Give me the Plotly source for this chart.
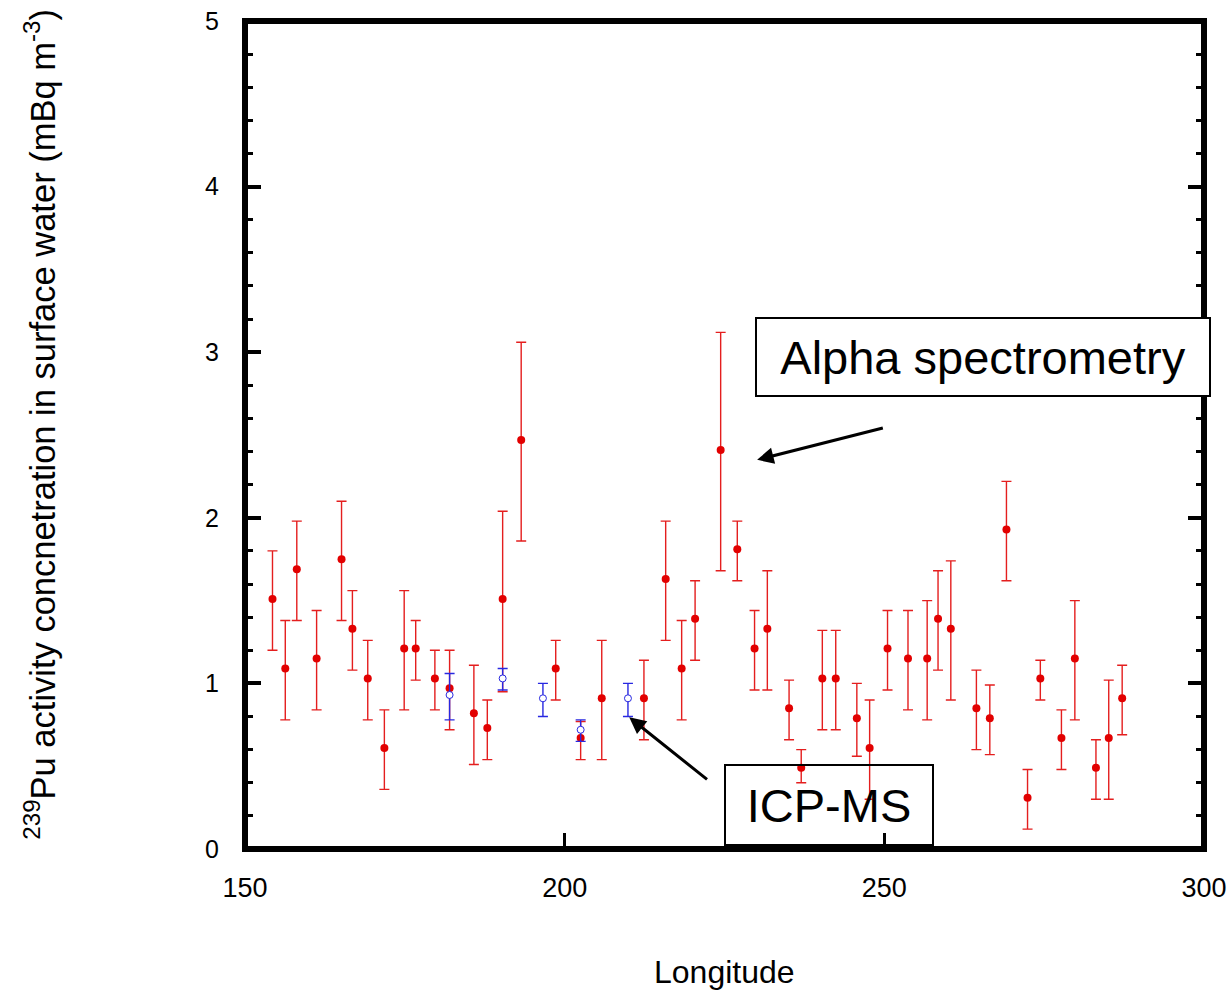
import numpy as np
import plotly.graph_objects as go

# ---- Alpha spectrometry (red filled dots) ----
alpha_lon = [154.3, 156.3, 158.1, 161.2, 165.1, 166.8, 169.2, 171.8, 174.9, 176.7,
             179.7, 182.0, 185.8, 187.9, 190.3, 193.2, 198.6, 202.5, 205.8, 212.4,
             215.8, 218.3, 220.4, 224.4, 227.0, 229.7, 231.7, 235.1, 237.0, 240.3,
             242.4, 245.7, 247.7, 250.5, 253.7, 256.7, 258.4, 260.4, 264.4, 266.5,
             269.1, 272.4, 274.4, 277.7, 279.8, 283.1, 285.1, 287.2]
alpha_val = [1.51, 1.09, 1.69, 1.15, 1.75, 1.33, 1.03, 0.61, 1.21, 1.21,
             1.03, 0.97, 0.82, 0.73, 1.51, 2.47, 1.09, 0.67, 0.91, 0.91,
             1.63, 1.09, 1.39, 2.41, 1.81, 1.21, 1.33, 0.85, 0.49, 1.03,
             1.03, 0.79, 0.61, 1.21, 1.15, 1.15, 1.39, 1.33, 0.85, 0.79,
             1.93, 0.31, 1.03, 0.67, 1.15, 0.49, 0.67, 0.91]
alpha_upper = [1.80, 1.38, 1.98, 1.44, 2.10, 1.56, 1.26, 0.84, 1.56, 1.38,
               1.20, 1.20, 1.11, 0.90, 2.04, 3.06, 1.26, 0.77, 1.26, 1.14,
               1.98, 1.38, 1.62, 3.12, 1.98, 1.44, 1.68, 1.02, 0.60, 1.32,
               1.32, 1.00, 0.90, 1.44, 1.44, 1.50, 1.68, 1.74, 1.08, 0.99,
               2.22, 0.48, 1.14, 0.84, 1.50, 0.66, 1.02, 1.11]
alpha_lower = [1.20, 0.78, 1.38, 0.84, 1.38, 1.08, 0.78, 0.36, 0.84, 1.02,
               0.84, 0.72, 0.51, 0.54, 0.95, 1.86, 0.90, 0.54, 0.54, 0.66,
               1.26, 0.78, 1.14, 1.68, 1.62, 0.96, 0.96, 0.66, 0.40, 0.72,
               0.72, 0.56, 0.30, 0.96, 0.84, 0.78, 1.08, 0.90, 0.60, 0.57,
               1.62, 0.12, 0.90, 0.48, 0.78, 0.30, 0.30, 0.69]

# ---- ICP-MS (blue open circles) ----
icp_lon = [182.0, 190.3, 196.6, 202.5, 209.9]
icp_val = [0.93, 1.03, 0.91, 0.72, 0.91]
icp_upper = [1.06, 1.09, 1.00, 0.78, 1.00]
icp_lower = [0.78, 0.96, 0.80, 0.65, 0.80]

x_ticks = [150, 200, 250, 300]
y_ticks = [0, 1, 2, 3, 4, 5]

# annotation arrows: (head_x, head_y, tail_x, tail_y)
alpha_arrow = (230.1, 2.35, 250.0, 2.545)
icp_arrow = (210.1, 0.795, 222.5, 0.413)
alpha_box_center = (265.5, 2.97)
icp_box_center = (241.3, 0.268)

a_val = np.array(alpha_val)
i_val = np.array(icp_val)

fig = go.Figure()
fig.add_trace(go.Scatter(
    x=alpha_lon, y=alpha_val, mode="markers", name="Alpha spectrometry",
    marker=dict(color="rgb(226,0,0)", size=8, line=dict(width=0)),
    error_y=dict(type="data", symmetric=False,
                 array=np.array(alpha_upper) - a_val,
                 arrayminus=a_val - np.array(alpha_lower),
                 color="rgb(228,30,30)", thickness=1.4, width=5),
    cliponaxis=False,
))
fig.add_trace(go.Scatter(
    x=icp_lon, y=icp_val, mode="markers", name="ICP-MS",
    marker=dict(color="white", size=7, symbol="circle",
                line=dict(color="rgb(40,40,225)", width=1)),
    error_y=dict(type="data", symmetric=False,
                 array=np.array(icp_upper) - i_val,
                 arrayminus=i_val - np.array(icp_lower),
                 color="rgb(40,40,225)", thickness=1.4, width=5),
    cliponaxis=False,
))

font_main = "Arial, Liberation Sans, sans-serif"

fig.update_layout(
    width=1232, height=990, autosize=False,
    margin=dict(l=245, r=27.5, t=21, b=140.5, pad=0, autoexpand=False),
    paper_bgcolor="white", plot_bgcolor="white",
    showlegend=False,
    xaxis=dict(range=[150, 300], tickvals=x_ticks, ticks="inside", ticklen=16,
               tickwidth=3, tickcolor="black", showgrid=False, zeroline=False,
               showline=False, mirror=False, automargin=False,
               ticklabeloverflow="allow",
               tickfont=dict(family=font_main, size=27, color="black"),
               ticklabelstandoff=20),
    yaxis=dict(range=[0, 5], tickvals=y_ticks, ticks="inside", ticklen=16,
               tickwidth=4, tickcolor="black", showgrid=False, zeroline=False,
               showline=False, mirror="ticks", automargin=False,
               ticklabeloverflow="allow",
               minor=dict(dtick=0.2, ticks="inside", ticklen=8, tickwidth=3,
                          tickcolor="black", showgrid=False),
               tickfont=dict(family=font_main, size=25, color="black"),
               ticklabelstandoff=25),
    shapes=[dict(type="rect", xref="paper", yref="paper", x0=0, x1=1, y0=0, y1=1,
                 line=dict(color="black", width=6), layer="above")],
)

annotations = [
    dict(text="<sup>239</sup>Pu activity concnetration in surface water (mBq m<sup>-3</sup>)",
         xref="paper", yref="paper", x=-0.2137, y=0.5125, xanchor="center",
         yanchor="middle", textangle=-90, showarrow=False,
         font=dict(family="Liberation Sans, Arial, sans-serif", size=34.5, color="black")),
    dict(text="Longitude", xref="paper", yref="paper", x=0.5, y=-0.148,
         xanchor="center", yanchor="middle", showarrow=False,
         font=dict(family=font_main, size=32, color="black")),
    dict(text="", x=alpha_arrow[0], y=alpha_arrow[1], ax=alpha_arrow[2], ay=alpha_arrow[3],
         xref="x", yref="y", axref="x", ayref="y", showarrow=True,
         arrowhead=2, arrowsize=1.1, arrowwidth=3, arrowcolor="black"),
    dict(text="", x=icp_arrow[0], y=icp_arrow[1], ax=icp_arrow[2], ay=icp_arrow[3],
         xref="x", yref="y", axref="x", ayref="y", showarrow=True,
         arrowhead=2, arrowsize=1.1, arrowwidth=3, arrowcolor="black"),
    dict(text="Alpha spectrometry", x=alpha_box_center[0], y=alpha_box_center[1],
         xref="x", yref="y", xanchor="center", yanchor="middle", showarrow=False,
         width=452, height=76, bgcolor="white", bordercolor="black", borderwidth=2,
         borderpad=0, font=dict(family=font_main, size=47, color="black")),
    dict(text="ICP-MS", x=icp_box_center[0], y=icp_box_center[1],
         xref="x", yref="y", xanchor="center", yanchor="middle", showarrow=False,
         width=206, height=78, bgcolor="rgba(0,0,0,0)", bordercolor="black", borderwidth=2,
         borderpad=0, font=dict(family=font_main, size=47, color="black")),
]
fig.update_layout(annotations=annotations)

fig.write_html("out.html", config={"displayModeBar": False},
               post_script="document.body.style.margin='0px';")
